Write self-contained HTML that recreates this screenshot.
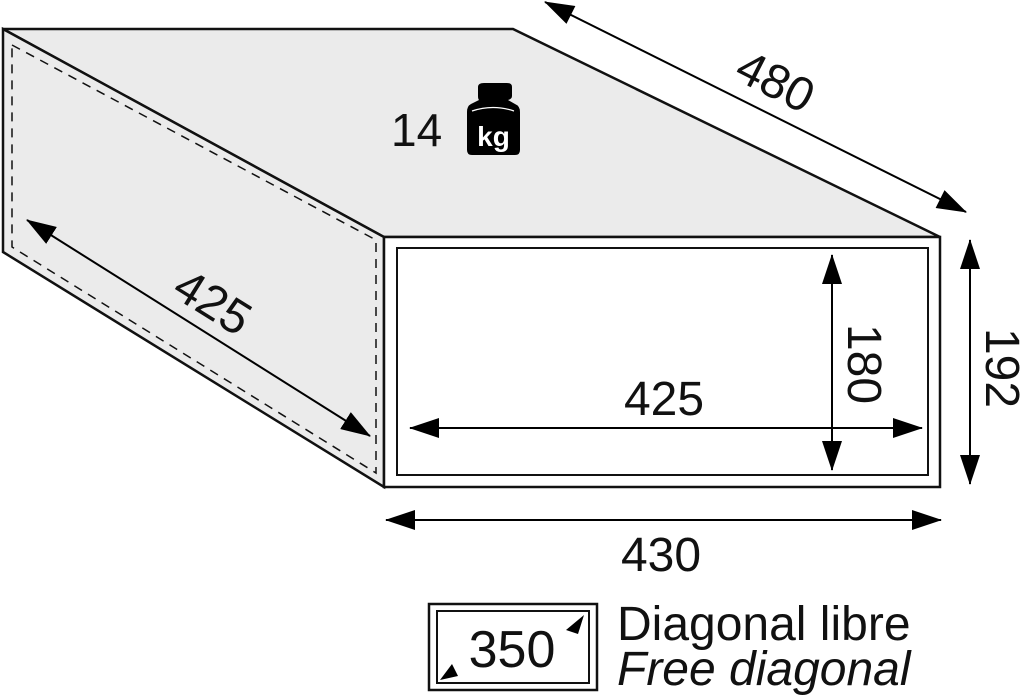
<!DOCTYPE html>
<html><head><meta charset="utf-8"><style>
html,body{margin:0;padding:0;background:#fff;width:1024px;height:700px;overflow:hidden}
text{font-family:"Liberation Sans",sans-serif;fill:#111}
</style></head><body>
<svg width="1024" height="700" viewBox="0 0 1024 700" xmlns="http://www.w3.org/2000/svg">
<defs>
<marker id="b" viewBox="0 0 30 20" refX="29" refY="10" markerWidth="30" markerHeight="20" markerUnits="userSpaceOnUse" orient="auto-start-reverse"><path d="M0,0 L30,10 L0,20 z" fill="#000"/></marker>
</defs>
<g stroke="#111" stroke-width="2.5" stroke-linejoin="miter">
<polygon points="3,29 513,29 940,237 384,237" fill="#ebebeb"/>
<polygon points="3,29 384,237 384,487 3,252" fill="#ebebeb"/>
<rect x="384" y="237" width="556" height="250" fill="#fff"/>
<rect x="397" y="248" width="531" height="227" fill="#fff" stroke-width="2"/>
</g>
<polygon points="12,45 376,240 376,473 12,247" fill="none" stroke="#111" stroke-width="1.5" stroke-dasharray="9,7"/>
<g stroke="#000" stroke-width="2" fill="none">
<line x1="27" y1="220" x2="370" y2="436" marker-start="url(#b)" marker-end="url(#b)"/>
<line x1="545" y1="2" x2="966" y2="212" marker-start="url(#b)" marker-end="url(#b)"/>
<line x1="970" y1="240" x2="970" y2="484" marker-start="url(#b)" marker-end="url(#b)"/>
<line x1="832" y1="255" x2="832" y2="470" marker-start="url(#b)" marker-end="url(#b)"/>
<line x1="410" y1="428" x2="922" y2="428" marker-start="url(#b)" marker-end="url(#b)"/>
<line x1="386" y1="520" x2="941" y2="520" marker-start="url(#b)" marker-end="url(#b)"/>
</g>
<g font-size="48">
<text x="0" y="0" text-anchor="middle" transform="translate(204,316) rotate(32)">425</text>
<text x="0" y="0" text-anchor="middle" transform="translate(768,96) rotate(27)">480</text>
<text x="0" y="0" text-anchor="middle" transform="translate(986,368) rotate(90)">192</text>
<text x="0" y="0" text-anchor="middle" transform="translate(848,364) rotate(90)">180</text>
<text x="664" y="415" text-anchor="middle">425</text>
<text x="661" y="571" text-anchor="middle">430</text>
<text x="391" y="146" font-size="46">14</text>
<text x="617" y="640">Diagonal libre</text>
<text x="617" y="685" font-style="italic">Free diagonal</text>
</g>
<g fill="#000">
<path d="M478,87 Q478,83 484,83 L507,83 Q512,83 512,87 L512,96 Q512,99 508,100 L515,104 Q520,106 520,112 L520,150 Q520,155 515,155 L472,155 Q467,155 467,150 L467,112 Q467,106 471,104 L479,100 Q478,99 478,96 Z"/>
</g>
<path d="M472,111 Q493,104 514,111" stroke="#fff" stroke-width="1.2" fill="none"/>
<text x="493.5" y="146" font-size="28" font-weight="bold" text-anchor="middle" style="fill:#fff">kg</text>
<g stroke="#111" stroke-width="2.5" fill="#fff">
<rect x="429" y="604" width="168" height="86"/>
<rect x="437" y="611" width="152" height="72" stroke-width="2"/>
</g>
<text x="512" y="667" font-size="52" text-anchor="middle">350</text>
<polygon points="566,630 584,615 578,634" fill="#000"/>
<polygon points="440,680 458,676 452,664" fill="#000"/>
</svg>
</body></html>
